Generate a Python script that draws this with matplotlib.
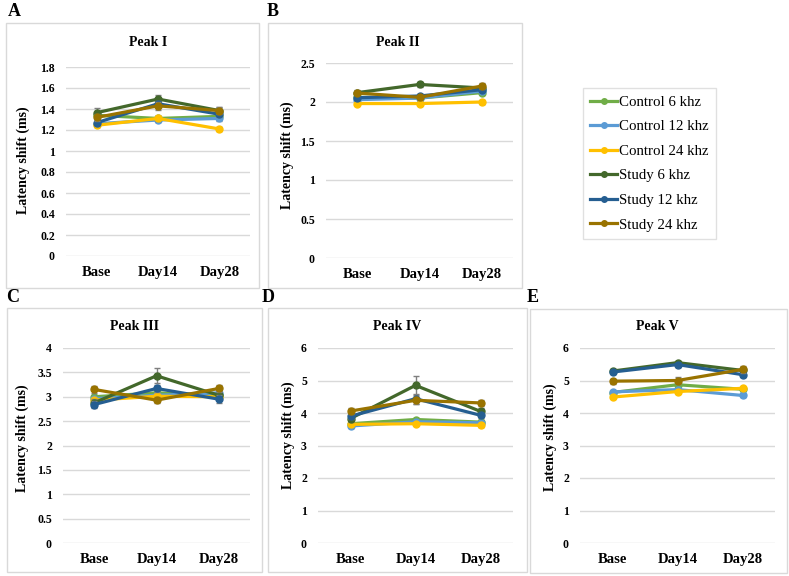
import numpy as np
import matplotlib
matplotlib.use("Agg")
import matplotlib.pyplot as plt
from matplotlib.patches import Rectangle
from matplotlib.lines import Line2D

plt.rcParams['font.family'] = ['Liberation Serif', 'DejaVu Serif']

W, H = 789, 576

days = ["Base", "Day14", "Day28"]
series_names = ["Control 6 khz", "Control 12 khz", "Control 24 khz",
                "Study 6 khz", "Study 12 khz", "Study 24 khz"]
colors = ["#70AD47", "#5B9BD5", "#FFC000", "#43682B", "#255E91", "#997300"]

# rows follow series_names order
peak1 = [[1.34, 1.31, 1.33],
         [1.26, 1.295, 1.31],
         [1.245, 1.31, 1.21],
         [1.365, 1.495, 1.385],
         [1.27, 1.45, 1.35],
         [1.32, 1.43, 1.385]]
peak1_err = [[0.02, 0.02, 0.02], [0.02, 0.02, 0.02], [0.02, 0.02, 0.02],
             [0.04, 0.04, 0.03], [0.03, 0.03, 0.03], [0.03, 0.04, 0.03]]

peak2 = [[2.06, 2.05, 2.12],
         [2.03, 2.05, 2.14],
         [1.98, 1.98, 2.0],
         [2.12, 2.225, 2.18],
         [2.055, 2.077, 2.158],
         [2.115, 2.06, 2.205]]
peak2_err = [[0.02, 0.02, 0.02], [0.02, 0.02, 0.02], [0.02, 0.02, 0.02],
             [0.03, 0.03, 0.03], [0.03, 0.03, 0.03], [0.03, 0.03, 0.04]]

peak3 = [[3.0, 3.08, 3.03],
         [2.96, 3.03, 3.08],
         [2.93, 3.01, 3.0],
         [2.875, 3.43, 3.03],
         [2.84, 3.17, 2.95],
         [3.15, 2.93, 3.17]]
peak3_err = [[0.04, 0.04, 0.04], [0.04, 0.04, 0.04], [0.03, 0.03, 0.03],
             [0.08, 0.15, 0.08], [0.08, 0.08, 0.08], [0.07, 0.06, 0.07]]

peak4 = [[3.67, 3.8, 3.72],
         [3.6, 3.73, 3.7],
         [3.65, 3.67, 3.62],
         [3.83, 4.85, 4.05],
         [3.9, 4.44, 3.93],
         [4.06, 4.39, 4.31]]
peak4_err = [[0.06, 0.05, 0.05], [0.06, 0.05, 0.05], [0.05, 0.04, 0.04],
             [0.1, 0.3, 0.1], [0.08, 0.15, 0.08], [0.08, 0.1, 0.08]]

peak5 = [[4.63, 4.87, 4.73],
         [4.65, 4.72, 4.54],
         [4.49, 4.66, 4.76],
         [5.29, 5.55, 5.31],
         [5.26, 5.49, 5.18],
         [4.98, 5.0, 5.34]]
peak5_err = [[0.04, 0.04, 0.04], [0.04, 0.04, 0.04], [0.04, 0.04, 0.04],
             [0.06, 0.06, 0.06], [0.06, 0.06, 0.06], [0.08, 0.1, 0.1]]

titles = ["Peak I", "Peak II", "Peak III", "Peak IV", "Peak V"]
yticks = [np.arange(0, 1.81, 0.2), np.arange(0, 2.51, 0.5), np.arange(0, 4.01, 0.5),
          np.arange(0, 6.01, 1), np.arange(0, 6.01, 1)]
ytick_labels = [["0", "0.2", "0.4", "0.6", "0.8", "1", "1.2", "1.4", "1.6", "1.8"],
                ["0", "0.5", "1", "1.5", "2", "2.5"],
                ["0", "0.5", "1", "1.5", "2", "2.5", "3", "3.5", "4"],
                ["0", "1", "2", "3", "4", "5", "6"],
                ["0", "1", "2", "3", "4", "5", "6"]]

# layout in pixels: axes (left, right, top, bottom), panel box, letter pos, title pos, ylabel pos
ax_px = [(66, 250, 67, 256), (326, 513, 63, 258), (63, 250, 348, 543),
         (318, 513, 348, 543), (580, 775, 348, 543)]
box_px = [(6, 259, 23, 288), (268, 522, 23, 288), (7, 262, 308, 572),
          (268, 527, 308, 572), (530, 787, 309, 573)]
letters = ["A", "B", "C", "D", "E"]
letter_px = [(8, 12), (267, 12), (6, 297), (262, 297), (527, 297)]
title_px = [(148, 42), (398, 42), (135, 327), (397, 327), (657, 327)]
ylab_px = [(23, 160), (287, 155), (22, 438), (288, 435), (550, 437)]

data = [peak1, peak2, peak3, peak4, peak5]
errs = [peak1_err, peak2_err, peak3_err, peak4_err, peak5_err]

fig = plt.figure(figsize=(W / 100, H / 100), dpi=100)
fig.patch.set_facecolor("white")

for i in range(5):
    l, r, t, b = ax_px[i]
    ax = fig.add_axes([l / W, 1 - b / H, (r - l) / W, (b - t) / H])
    x = np.arange(len(days))
    for j in range(6):
        ax.errorbar(x, data[i][j], yerr=errs[i][j], color=colors[j], lw=2.3,
                    marker="o", ms=5, ecolor="#7f7f7f", elinewidth=1,
                    capsize=2.5, capthick=1, zorder=3 + j)
    ax.set_xlim(-0.5, 2.5)
    ax.set_ylim(0, yticks[i][-1])
    ax.set_yticks(yticks[i])
    ax.set_yticklabels(ytick_labels[i])
    ax.set_xticks(x)
    ax.set_xticklabels(days)
    ax.grid(axis="y", color="#d9d9d9", lw=1)
    ax.set_axisbelow(True)
    for s in ax.spines.values():
        s.set_visible(False)
    ax.tick_params(axis="both", length=0)
    ax.tick_params(axis="y", pad=8, labelsize=8.5)
    ax.tick_params(axis="x", pad=7, labelsize=10.5)
    for lab in ax.get_xticklabels() + ax.get_yticklabels():
        lab.set_fontweight("bold")

    bl, br, bt, bb = box_px[i]
    fig.add_artist(Rectangle((bl / W, 1 - bb / H), (br - bl) / W, (bb - bt) / H,
                             transform=fig.transFigure, fill=False,
                             edgecolor="#d9d9d9", lw=1))
    lx, ly = letter_px[i]
    fig.text(lx / W, 1 - ly / H, letters[i], fontsize=13, fontweight="bold",
             ha="left", va="center")
    tx, ty = title_px[i]
    fig.text(tx / W, 1 - ty / H, titles[i], fontsize=10, fontweight="bold",
             ha="center", va="center")
    yx, yy = ylab_px[i]
    fig.text(yx / W, 1 - yy / H, "Latency shift (ms)", fontsize=10,
             fontweight="bold", rotation=90, ha="center", va="center")

handles = [Line2D([0], [0], color=c, lw=2.3, marker="o", ms=4) for c in colors]
leg = fig.legend(handles, series_names, loc="upper left",
                 bbox_to_anchor=(583 / W, 1 - 88 / H), frameon=True,
                 fancybox=False, edgecolor="#d9d9d9", prop={"size": 10.7},
                 handlelength=1.8, handletextpad=0.1, labelspacing=0.75,
                 borderpad=0.5, borderaxespad=0)
leg.get_frame().set_linewidth(1)

fig.savefig("out.png", dpi=100, facecolor="white")
